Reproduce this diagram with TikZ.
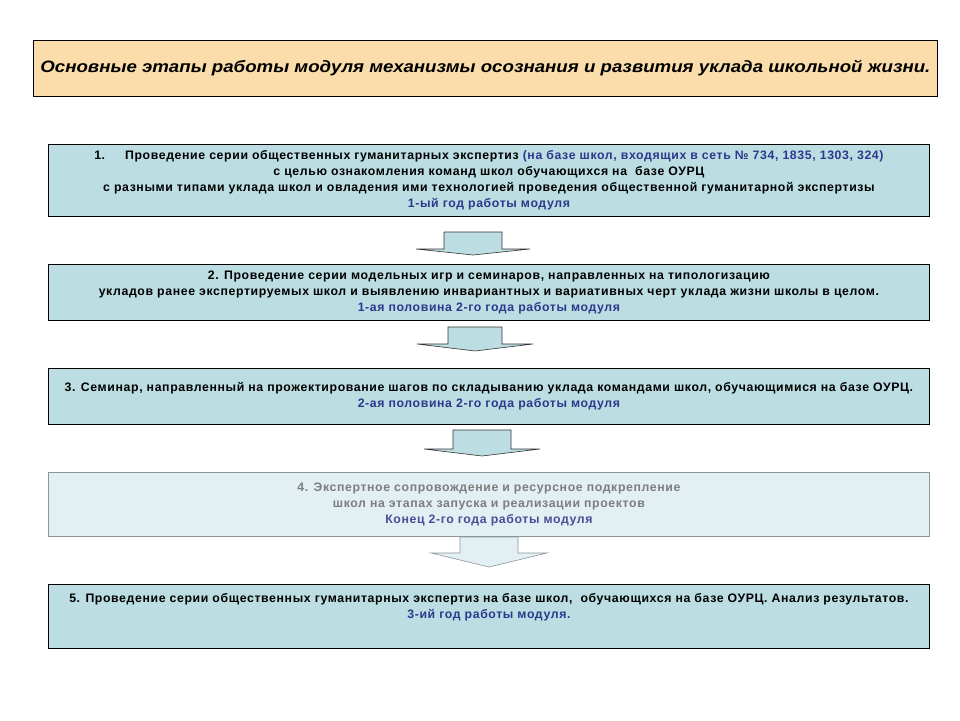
\documentclass[tikz,border=0pt]{standalone}
\usepackage{fontspec}
\setmainfont{Liberation Sans}
\newfontfamily\boxfont{Liberation Sans}[LetterSpace=5]
\usepackage{graphicx}
\definecolor{boxfill}{RGB}{188,222,226}
\definecolor{titlefill}{RGB}{250,221,170}
\definecolor{navy}{RGB}{44,56,140}
\definecolor{fadefill}{RGB}{226,240,243}
\definecolor{fadeline}{RGB}{140,150,152}
\definecolor{fadetext}{RGB}{125,125,125}
\definecolor{fadenavy}{RGB}{70,80,150}
\newcommand\blockarrow[7]{%
  \draw[#7] (#1-#5,#2) -- (#1+#5,#2) -- (#1+#5,#3) -- (#1+#6,#3) -- (#1,#4)
    -- (#1-#6,#3) -- (#1-#5,#3) -- cycle;}
\tikzset{
  titlebox/.style={draw=black, line width=0.8pt, fill=titlefill, inner sep=0pt,
    anchor=north west, minimum width=904, minimum height=56},
  stagebox/.style={draw=black, line width=0.8pt, fill=boxfill, inner sep=0pt,
    anchor=north west, minimum width=881, align=center,
    font=\boxfont\fontsize{12.3}{16}\selectfont\bfseries},
  fadebox/.style={stagebox, draw=fadeline, fill=fadefill, text=fadetext},
  blockarr/.style={draw=black!80, line width=0.6pt, fill=boxfill},
  fadearr/.style={draw=fadeline, line width=0.6pt, fill=fadefill}
}
\begin{document}
\begin{tikzpicture}[x=1pt,y=-1pt]
\useasboundingbox[fill=white] (0,0) rectangle (960,720);
\node[titlebox] (title) at (33,40)
  {\resizebox{890pt}{\height}{\fontsize{16.5}{18}\selectfont\bfseries\itshape Основные этапы работы модуля механизмы осознания и развития уклада школьной жизни.}};
\node[stagebox, minimum height=72] (s1) at (48,144)
  {1.\hspace{20pt}Проведение серии общественных гуманитарных экспертиз \textcolor{navy}{(на базе школ, входящих в сеть № 734, 1835, 1303, 324)}\\
   с целью ознакомления команд школ обучающихся на\ \ базе ОУРЦ\\
   с разными типами уклада школ и овладения ими технологией проведения общественной гуманитарной экспертизы\\
   \textcolor{navy}{1-ый год работы модуля}};
\node[stagebox, minimum height=56] (s2) at (48,264)
  {2. Проведение серии модельных игр и семинаров, направленных на типологизацию\\
   укладов ранее экспертируемых школ и выявлению инвариантных и вариативных черт уклада жизни школы в целом.\\
   \textcolor{navy}{1-ая половина 2-го года работы модуля}};
\node[stagebox, minimum height=56] (s3) at (48,368)
  {3. Семинар, направленный на прожектирование шагов по складыванию уклада командами школ, обучающимися на базе ОУРЦ.\\
   \textcolor{navy}{2-ая половина 2-го года работы модуля}};
\node[fadebox, minimum height=64] (s4) at (48,472)
  {4. Экспертное сопровождение и ресурсное подкрепление\\
   школ на этапах запуска и реализации проектов\\
   \textcolor{fadenavy}{Конец 2-го года работы модуля}};
\node[stagebox, minimum height=64] (s5) at (48,584)
  {5. Проведение серии общественных гуманитарных экспертиз на базе школ,\ \ обучающихся на базе ОУРЦ. Анализ результатов.\\
   \textcolor{navy}{3-ий год работы модуля.}\\ \strut};
\blockarrow{473}{232}{249}{255}{29}{57}{blockarr}
\blockarrow{475}{327}{344}{351}{27}{58}{blockarr}
\blockarrow{482}{430}{449}{456}{29}{58}{blockarr}
\blockarrow{489}{537}{553}{567}{29}{58}{fadearr}
\end{tikzpicture}
\end{document}
